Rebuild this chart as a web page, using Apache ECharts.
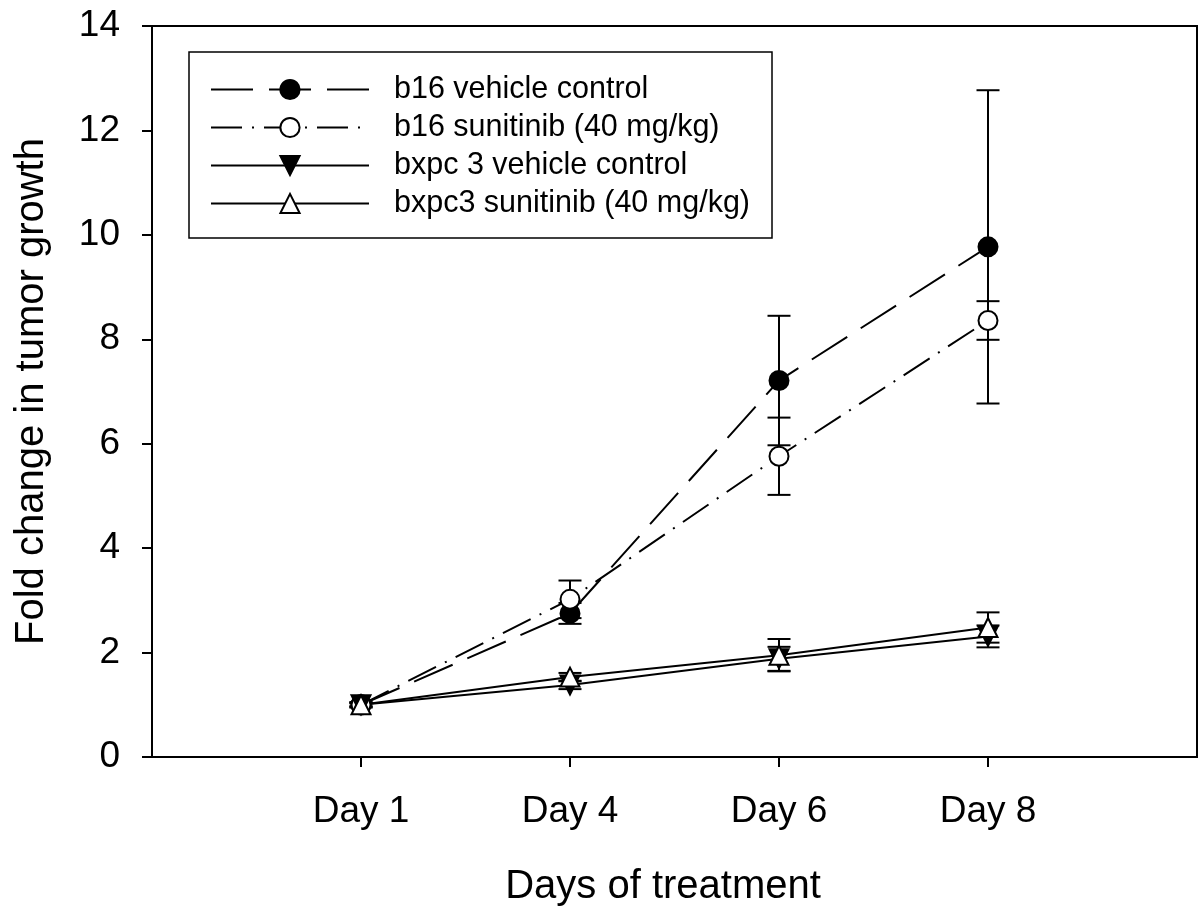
<!DOCTYPE html>
<html>
<head>
<meta charset="utf-8">
<script src="https://cdn.jsdelivr.net/npm/echarts@6/dist/echarts.min.js"></script>
<style>
html,body{margin:0;padding:0;background:#fff;}
#chart{width:1204px;height:912px;}
</style>
</head>
<body>
<div id="chart"></div>
<script>
// ---- data ----
var dayLabels = ['Day 1', 'Day 4', 'Day 6', 'Day 8'];
var dayPos = [1, 2, 3, 4];
var seriesNames = ['b16 vehicle control', 'b16 sunitinib (40 mg/kg)', 'bxpc 3 vehicle control', 'bxpc3 sunitinib (40 mg/kg)'];
var b16Vehicle = [1.0, 2.75, 7.21, 9.77];
var b16VehicleErr = [0.05, 0.20, 1.24, 3.00];
var b16Sunitinib = [1.0, 3.02, 5.76, 8.36];
var b16SunitinibErr = [0.05, 0.36, 0.74, 0.37];
var bxpcVehicle = [1.0, 1.38, 1.88, 2.31];
var bxpcVehicleErr = [0.03, 0.08, 0.23, 0.21];
var bxpcSunitinib = [1.0, 1.53, 1.95, 2.48];
var bxpcSunitinibErr = [0.03, 0.08, 0.31, 0.29];
var yTicks = [0, 2, 4, 6, 8, 10, 12, 14];

var FONT = '"Liberation Sans", Arial, Helvetica, sans-serif';

function pts(vals) { return vals.map(function (v, i) { return [dayPos[i], v]; }); }
function errPts(vals, errs) { return vals.map(function (v, i) { return [dayPos[i], v, errs[i]]; }); }

function errSeries(vals, errs) {
  return {
    type: 'custom',
    z: 1,
    silent: true,
    data: errPts(vals, errs),
    renderItem: function (params, api) {
      var x = api.value(0), y = api.value(1), e = api.value(2);
      var top = api.coord([x, y + e]);
      var bot = api.coord([x, y - e]);
      var hw = 11.5;
      var st = { stroke: '#000', lineWidth: 2 };
      return {
        type: 'group',
        children: [
          { type: 'line', shape: { x1: top[0], y1: top[1], x2: bot[0], y2: bot[1] }, style: st },
          { type: 'line', shape: { x1: top[0] - hw, y1: top[1], x2: top[0] + hw, y2: top[1] }, style: st },
          { type: 'line', shape: { x1: bot[0] - hw, y1: bot[1], x2: bot[0] + hw, y2: bot[1] }, style: st }
        ]
      };
    }
  };
}

function lineSeries(name, vals, dash, symbol, fill, rotate, size) {
  return {
    type: 'line',
    name: name,
    z: 3,
    data: pts(vals),
    symbol: symbol,
    symbolSize: size,
    symbolRotate: rotate,
    showAllSymbol: true,
    lineStyle: { color: '#000', width: 2, type: dash },
    itemStyle: { color: fill, borderColor: '#000', borderWidth: 2 },
    emphasis: { disabled: true }
  };
}

var chart = echarts.init(document.getElementById('chart'), null, { renderer: 'canvas' });
chart.setOption({
  animation: false,
  backgroundColor: '#fff',
  textStyle: { fontFamily: FONT },
  grid: { left: 152, top: 26, right: 7, bottom: 155, show: true, borderColor: '#000', borderWidth: 2, backgroundColor: 'transparent' },
  legend: {
    data: seriesNames,
    orient: 'vertical',
    left: 189,
    top: 52,
    padding: [22, 22, 19, 21],
    itemGap: 7,
    itemWidth: 158,
    itemHeight: 24,
    borderColor: '#000',
    borderWidth: 1.5,
    backgroundColor: '#fff',
    selectedMode: false,
    textStyle: { fontFamily: FONT, fontSize: 30.5, color: '#000', lineHeight: 30, padding: [0, 0, 0, 20] }
  },
  xAxis: {
    type: 'value',
    min: 0,
    max: 5,
    interval: 1,
    splitLine: { show: false },
    axisLine: { show: true, lineStyle: { color: '#000', width: 2 } },
    axisTick: { show: true, customValues: dayPos, length: 10, lineStyle: { color: '#000', width: 2 } },
    axisLabel: {
      customValues: dayPos,
      margin: 36,
      fontSize: 37,
      color: '#000',
      fontFamily: FONT,
      formatter: function (v) { var i = dayPos.indexOf(v); return i >= 0 ? dayLabels[i] : ''; }
    },
    name: 'Days of treatment',
    nameLocation: 'middle',
    nameGap: 110,
    nameTextStyle: { fontSize: 40, color: '#000', fontFamily: FONT, padding: [0, 23, 0, 0] }
  },
  yAxis: {
    type: 'value',
    min: 0,
    max: 14,
    interval: 2,
    splitLine: { show: false },
    axisLine: { show: true, lineStyle: { color: '#000', width: 2 } },
    axisTick: { show: true, length: 10, lineStyle: { color: '#000', width: 2 } },
    axisLabel: { margin: 32, fontSize: 37, color: '#000', fontFamily: FONT },
    name: 'Fold change in tumor growth',
    nameLocation: 'middle',
    nameGap: 100,
    nameTextStyle: { fontSize: 40, color: '#000', fontFamily: FONT }
  },
  series: [
    errSeries(b16Vehicle, b16VehicleErr),
    errSeries(b16Sunitinib, b16SunitinibErr),
    errSeries(bxpcVehicle, bxpcVehicleErr),
    errSeries(bxpcSunitinib, bxpcSunitinibErr),
    lineSeries(seriesNames[0], b16Vehicle, [42, 16], 'circle', '#000', 0, 19),
    lineSeries(seriesNames[1], b16Sunitinib, [31, 10, 2, 10], 'circle', '#fff', 0, 19),
    lineSeries(seriesNames[2], bxpcVehicle, 'solid', 'triangle', '#000', 180, 19),
    lineSeries(seriesNames[3], bxpcSunitinib, 'solid', 'triangle', '#fff', 0, 19)
  ]
});
</script>
</body>
</html>
